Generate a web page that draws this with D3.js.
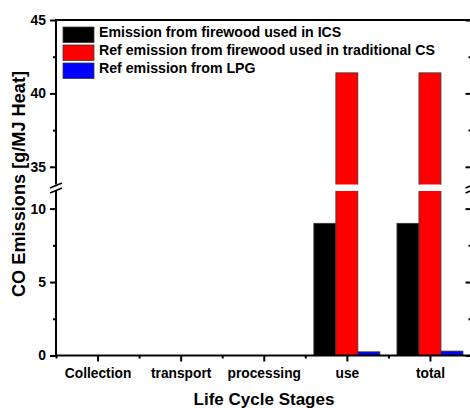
<!DOCTYPE html>
<html>
<head>
<meta charset="utf-8">
<script src="https://cdn.jsdelivr.net/npm/d3@7"></script>
<style>
  html, body { margin: 0; padding: 0; background: #fff; }
  svg { display: block; font-family: "Liberation Sans", Arial, sans-serif; font-weight: bold; }
</style>
</head>
<body>
<svg id="chart" width="470" height="408"></svg>
<script>
// Life cycle stages and CO emissions per series (g/MJ heat)
const stages = ["Collection", "transport", "processing", "use", "total"];
const seriesNames = [
  "Emission from firewood used in ICS",
  "Ref emission from firewood used in traditional CS",
  "Ref emission from LPG"
];
const seriesColors = ["#000000", "#ff0000", "#0000ff"];
const icsValues = [0, 0, 0, 9.0, 9.0];
const traditionalValues = [0, 0, 0, 41.4, 41.4];
const lpgValues = [0, 0, 0, 0.25, 0.3];
const lowerTicks = [0, 5, 10];
const upperTicks = [35, 40, 45];
const lowerMinor = [2.5, 7.5];
const upperMinor = [37.5, 42.5];

const seriesValues = [icsValues, traditionalValues, lpgValues];

const svg = d3.select("#chart");
const plotLeft = 56, plotRight = 471.5, plotTop = 20, plotBottom = 355.5;

// scale a text's font size so its rendered length equals the wanted width
function fitFont(sel, width) {
  const node = sel.node();
  const fs = parseFloat(sel.attr("font-size"));
  const len = node.getComputedTextLength();
  if (len > 0) sel.attr("font-size", (fs * width / len).toFixed(2));
  return sel;
}

// broken y axis: two segments with the same unit scale
const yLow = d3.scaleLinear().domain([0, 11.2]).range([plotBottom, 191]);
const yHigh = d3.scaleLinear().domain([33.8, 45]).range([184.4, plotTop]);

const x = d3.scaleBand().domain(stages).range([plotLeft, plotRight]).padding(0);
const xInner = d3.scaleBand().domain(d3.range(3)).range([-33, 33]);

// bars, clipped per segment
const defs = svg.append("defs");
defs.append("clipPath").attr("id", "clipLow").append("rect")
  .attr("x", plotLeft).attr("y", yLow.range()[1]).attr("width", plotRight - plotLeft).attr("height", plotBottom - yLow.range()[1]);
defs.append("clipPath").attr("id", "clipHigh").append("rect")
  .attr("x", plotLeft).attr("y", plotTop).attr("width", plotRight - plotLeft).attr("height", yHigh.range()[0] - plotTop);

const barData = [];
stages.forEach((s, i) => {
  seriesValues.forEach((vals, k) => {
    if (vals[i] > 0) barData.push({ stage: s, k, v: vals[i] });
  });
});

function drawBars(scale, clipId) {
  const [d0, d1] = scale.domain();
  svg.append("g").attr("clip-path", `url(#${clipId})`)
    .selectAll("rect")
    .data(barData.filter(d => d.v > d0))
    .join("rect")
    .attr("x", d => x(d.stage) + x.bandwidth() / 2 + xInner(d.k))
    .attr("width", xInner.bandwidth())
    .attr("y", d => scale(Math.min(d.v, d1 + 1)))
    .attr("height", d => scale(d0 - 1) - scale(Math.min(d.v, d1 + 1)))
    .attr("fill", d => seriesColors[d.k])
    .attr("stroke", "#3a3a3a")
    .attr("stroke-width", 0.8);
}
drawBars(yLow, "clipLow");
drawBars(yHigh, "clipHigh");

// axes
function styleAxis(size) {
  return g => {
    g.select(".domain").remove();
    g.selectAll(".tick line").attr("stroke", "#000").attr("stroke-width", 2);
    g.selectAll("text").attr("font-size", size).attr("fill", "#000");
  };
}
const yLabelGroups = [];
function leftAxis(scale, major, minor) {
  yLabelGroups.push(svg.append("g").attr("transform", `translate(${plotLeft},0)`)
    .call(d3.axisLeft(scale).tickValues(major).tickSize(6).tickPadding(4).tickSizeOuter(0))
    .call(styleAxis(13.8)));
  svg.append("g").attr("transform", `translate(${plotLeft},0)`)
    .call(d3.axisLeft(scale).tickValues(minor).tickSize(3).tickFormat("").tickSizeOuter(0))
    .call(styleAxis(13.8));
  svg.append("g").attr("transform", `translate(${plotRight},0)`)
    .call(d3.axisRight(scale).tickValues(major).tickSize(-6).tickFormat("").tickSizeOuter(0))
    .call(styleAxis(13.8));
  svg.append("g").attr("transform", `translate(${plotRight},0)`)
    .call(d3.axisRight(scale).tickValues(minor).tickSize(-3).tickFormat("").tickSizeOuter(0))
    .call(styleAxis(13.8));
}
leftAxis(yLow, lowerTicks, lowerMinor);
leftAxis(yHigh, upperTicks, upperMinor);

// y tick labels sized so a two-digit label is ~15.5px wide
{
  const probe = yLabelGroups[1].select(".tick text");
  const fs = parseFloat(probe.attr("font-size"));
  const len = probe.node().getComputedTextLength();
  const size = (fs * 15.5 / len).toFixed(2);
  yLabelGroups.forEach(g => g.selectAll("text").attr("font-size", size));
}

// x axis: major ticks at stage centres, minor at boundaries
const xAxisScale = d3.scalePoint().domain(stages)
  .range([x(stages[0]) + x.bandwidth() / 2, x(stages[4]) + x.bandwidth() / 2]);
const xAxisG = svg.append("g").attr("transform", `translate(0,${plotBottom})`)
  .call(d3.axisBottom(xAxisScale).tickSize(6).tickPadding(7).tickSizeOuter(0))
  .call(styleAxis(13.3));
{
  const probe = xAxisG.select(".tick text");
  const fs = parseFloat(probe.attr("font-size"));
  const len = probe.node().getComputedTextLength();
  xAxisG.selectAll("text").attr("font-size", (fs * 66.5 / len).toFixed(2));
}
const boundaries = stages.map(s => x(s));
svg.append("g").attr("transform", `translate(0,${plotBottom})`)
  .call(d3.axisBottom(d3.scaleIdentity()).tickValues(boundaries).tickSize(3).tickFormat("").tickSizeOuter(0))
  .call(styleAxis(13.3));

// frame lines (axis spines), broken at the gap
const line = (x1, y1, x2, y2) => svg.append("line")
  .attr("x1", x1).attr("y1", y1).attr("x2", x2).attr("y2", y2)
  .attr("stroke", "#000").attr("stroke-width", 2);
line(plotLeft, plotTop, plotLeft, yHigh.range()[0]);
line(plotLeft, yLow.range()[1], plotLeft, plotBottom + 1);
line(plotRight, plotTop, plotRight, yHigh.range()[0]);
line(plotRight, yLow.range()[1], plotRight, plotBottom + 1);
line(plotLeft - 1, plotTop, plotRight + 1, plotTop);
line(plotLeft - 1, plotBottom, plotRight + 1, plotBottom);

// break marks
[plotLeft, plotRight].forEach(cx => {
  [-2.5, 2.5].forEach(off => {
    svg.append("line")
      .attr("x1", cx - 6).attr("y1", 188 + off + 2.5)
      .attr("x2", cx + 6).attr("y2", 188 + off - 2.5)
      .attr("stroke", "#000").attr("stroke-width", 1.6);
  });
});

// legend
const legend = svg.append("g");
const legendTexts = seriesNames.map((name, k) => {
  const yy = 27 + k * 18;
  legend.append("rect").attr("x", 63).attr("y", yy).attr("width", 31).attr("height", 15.5)
    .attr("fill", seriesColors[k]).attr("stroke", "#3a3a3a").attr("stroke-width", 0.8);
  return legend.append("text").attr("x", 99).attr("y", yy + 10).attr("font-size", 14).text(name);
});
{
  const probe = legendTexts[1];
  const len = probe.node().getComputedTextLength();
  const size = (14 * 336 / len).toFixed(2);
  legendTexts.forEach(t => t.attr("font-size", size));
}

// axis titles
fitFont(svg.append("text").attr("x", 264).attr("y", 405)
  .attr("text-anchor", "middle").attr("font-size", 17).text("Life Cycle Stages"), 141);
fitFont(svg.append("text").attr("transform", "translate(24.5,184) rotate(-90)")
  .attr("text-anchor", "middle").attr("font-size", 18).text("CO Emissions [g/MJ Heat]"), 226);
</script>
</body>
</html>
